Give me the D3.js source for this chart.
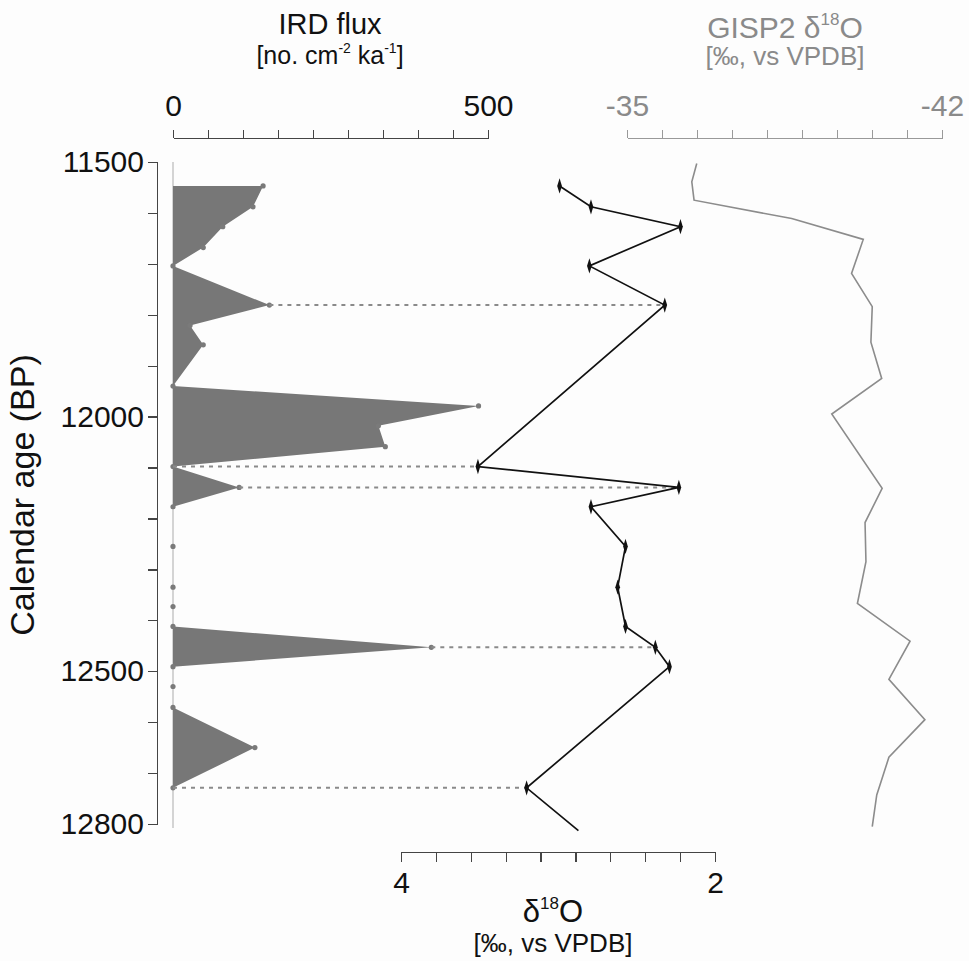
<!doctype html>
<html lang="en">
  <head>
    <meta charset="utf-8">
    <title>IRD flux and d18O</title>
    <script src="https://d3js.org/d3.v7.min.js"></script>
    <style>
        body { margin: 0; background: #fdfdfd; }
        svg { display: block; font-family: "Liberation Sans", Arial, sans-serif; }
        .axis path, .axis line { shape-rendering: crispEdges; }
    </style>
  </head>
  <body>
    <svg></svg>
    <script>
      // IRD flux (no. cm-2 ka-1) by calendar age
      var irdAge   = [11547, 11588, 11627, 11668, 11704, 11781, 11821, 11859, 11940, 11979, 12018, 12059,
                      12098, 12139, 12177, 12255, 12335, 12373, 12412, 12453, 12491, 12530, 12571, 12650, 12729];
      var irdFlux  = [143, 127, 79, 48, 0, 153, 27, 48, 0, 485, 326, 337,
                      0, 105, 0, 0, 0, 0, 0, 410, 0, 0, 0, 130, 0];

      // benthic d18O
      var benAge   = [11547, 11588, 11627, 11704, 11781, 12098, 12139, 12177, 12255, 12335, 12412, 12453, 12491, 12729, 12813];
      var benD18O  = [2.99, 2.79, 2.22, 2.80, 2.32, 3.51, 2.23, 2.79, 2.57, 2.62, 2.57, 2.38, 2.29, 3.20, 2.87];

      // GISP2 d18O
      var gispAge  = [11503, 11539, 11575, 11611, 11652, 11719, 11784, 11854, 11925, 11995, 12141,
                      12208, 12285, 12367, 12441, 12516, 12595, 12669, 12743, 12805];
      var gispD18O = [-36.55, -36.44, -36.49, -38.66, -40.25, -39.99, -40.45, -40.42, -40.66, -39.55, -40.67,
                      -40.29, -40.31, -40.12, -41.29, -40.82, -41.62, -40.82, -40.55, -40.45];

      // ages where IRD peaks are tied to the d18O record
      var tieAges  = [11781, 12098, 12139, 12453, 12729];

      var ageTicks = d3.range(11500, 12801, 100);
      var ageLabels = [11500, 12000, 12500, 12800];

      var svg = d3.select("svg").attr("width", 969).attr("height", 961);

      var y = d3.scaleLinear().domain([11500, 12800]).range([162, 824]);
      var xIrd = d3.scaleLinear().domain([0, 500]).range([173, 488]);
      var xBen = d3.scaleLinear().domain([4, 2]).range([401, 715]);
      var xGisp = d3.scaleLinear().domain([-35, -42]).range([627, 942]);

      // 10 evenly spaced ticks, labels only at the ends
      function evenTicks(d) {
        return d3.range(10).map(function(i){ return d[0] + i * (d[1] - d[0]) / 9 });
      }
      function endLabel(d) {
        return function(v){ return (v === d[0] || v === d[1]) ? String(v) : "" };
      }

      var irdData = irdAge.map(function(a, i){ return {age: a, v: irdFlux[i]} });
      var benData = benAge.map(function(a, i){ return {age: a, v: benD18O[i]} });
      var gispData = gispAge.map(function(a, i){ return {age: a, v: gispD18O[i]} });

      // zero line of IRD
      svg.append("line")
        .attr("x1", xIrd(0)).attr("x2", xIrd(0))
        .attr("y1", y(11500)).attr("y2", y(12800) + 4)
        .attr("stroke", "#d4d4d4").attr("stroke-width", 2);

      svg.append("path")
        .datum(irdData)
        .attr("fill", "#777")
        .attr("d", d3.area()
          .y(function(d){ return y(d.age) })
          .x0(xIrd(0))
          .x1(function(d){ return xIrd(d.v) }));

      svg.selectAll(".irddot").data(irdData).enter()
        .append("circle")
        .attr("class", "irddot")
        .attr("cx", function(d){ return xIrd(d.v) })
        .attr("cy", function(d){ return y(d.age) })
        .attr("r", 2.6)
        .attr("fill", "#7a7a7a");

      // dashed tie lines
      svg.selectAll(".tie").data(tieAges).enter()
        .append("line")
        .attr("class", "tie")
        .attr("x1", function(a){ return xIrd(irdFlux[irdAge.indexOf(a)]) })
        .attr("x2", function(a){ return xBen(benD18O[benAge.indexOf(a)]) })
        .attr("y1", function(a){ return y(a) })
        .attr("y2", function(a){ return y(a) })
        .attr("stroke", "#8a8a8a")
        .attr("stroke-width", 2)
        .attr("stroke-dasharray", "4,5");

      // GISP2
      svg.append("path")
        .datum(gispData)
        .attr("fill", "none")
        .attr("stroke", "#8c8c8c")
        .attr("stroke-width", 1.6)
        .attr("d", d3.line()
          .x(function(d){ return xGisp(d.v) })
          .y(function(d){ return y(d.age) }));

      // benthic d18O
      svg.append("path")
        .datum(benData)
        .attr("fill", "none")
        .attr("stroke", "#111")
        .attr("stroke-width", 1.7)
        .attr("d", d3.line()
          .x(function(d){ return xBen(d.v) })
          .y(function(d){ return y(d.age) }));

      svg.selectAll(".bendot").data(benData.filter(function(d){ return d.age <= 12800 })).enter()
        .append("path")
        .attr("class", "bendot")
        .attr("d", d3.symbol(d3.symbolDiamond, 30))
        .attr("transform", function(d){
          return "translate(" + xBen(d.v) + "," + y(d.age) + ") scale(0.8,1.5)"
        })
        .attr("fill", "#111");

      // axes
      var left = svg.append("g").attr("class", "axis")
        .attr("transform", "translate(157,0)")
        .call(d3.axisLeft(y).tickValues(ageTicks).tickSize(9).tickPadding(4)
          .tickFormat(function(v){ return ageLabels.indexOf(v) >= 0 ? v : "" }));

      var top1 = svg.append("g").attr("class", "axis")
        .attr("transform", "translate(0,138)")
        .call(d3.axisTop(xIrd).tickValues(evenTicks([0, 500])).tickSize(8).tickSizeOuter(0)
          .tickPadding(14).tickFormat(endLabel([0, 500])));

      var top2 = svg.append("g").attr("class", "axis")
        .attr("transform", "translate(0,138)")
        .call(d3.axisTop(xGisp).tickValues(evenTicks([-35, -42])).tickSize(8).tickSizeOuter(0)
          .tickPadding(14).tickFormat(endLabel([-35, -42])));

      var bottom = svg.append("g").attr("class", "axis")
        .attr("transform", "translate(0,852)")
        .call(d3.axisBottom(xBen).tickValues(evenTicks([4, 2])).tickSize(10).tickSizeOuter(0)
          .tickPadding(10).tickFormat(endLabel([4, 2])));

      [left, top1, bottom].forEach(function(g){
        g.selectAll("path, line").attr("stroke", "#444").attr("stroke-width", 1.3);
        g.selectAll("text").attr("fill", "#111").style("font-size", "30px").style("font-family", "inherit");
      });
      top2.selectAll("path, line").attr("stroke", "#999").attr("stroke-width", 1.3);
      top2.selectAll("text").attr("fill", "#8a8a8a").style("font-size", "30px").style("font-family", "inherit");

      // titles, with superscripts
      function title(x, yy, size, color, parts) {
        var t = svg.append("text")
          .attr("x", x).attr("y", yy)
          .attr("text-anchor", "middle")
          .attr("fill", color)
          .style("font-size", size + "px");
        var lift = Math.round(size * 0.42);
        var raised = false;
        parts.forEach(function(p){
          var s = t.append("tspan");
          if (p.sup) {
            s.attr("dy", -lift).style("font-size", Math.round(size * 0.55) + "px").text(p.sup);
            raised = true;
          } else {
            if (raised) { s.attr("dy", lift); raised = false; }
            s.text(p.t);
          }
        });
        return t;
      }

      title(330, 34, 29, "#111", [{t: "IRD flux"}]);
      title(330, 64, 25, "#111", [{t: "[no. cm"}, {sup: "-2"}, {t: " ka"}, {sup: "-1"}, {t: "]"}]);

      title(785, 38, 30, "#8a8a8a", [{t: "GISP2 δ"}, {sup: "18"}, {t: "O"}]);
      title(785, 65, 26, "#8a8a8a", [{t: "[‰, vs VPDB]"}]);

      title(553, 922, 31, "#111", [{t: "δ"}, {sup: "18"}, {t: "O"}]);
      title(553, 952, 26, "#111", [{t: "[‰, vs VPDB]"}]);

      svg.append("text")
        .attr("transform", "translate(34,495) rotate(-90)")
        .attr("text-anchor", "middle")
        .attr("fill", "#111")
        .style("font-size", "34px")
        .text("Calendar age (BP)");
    </script>
  </body>
</html>
